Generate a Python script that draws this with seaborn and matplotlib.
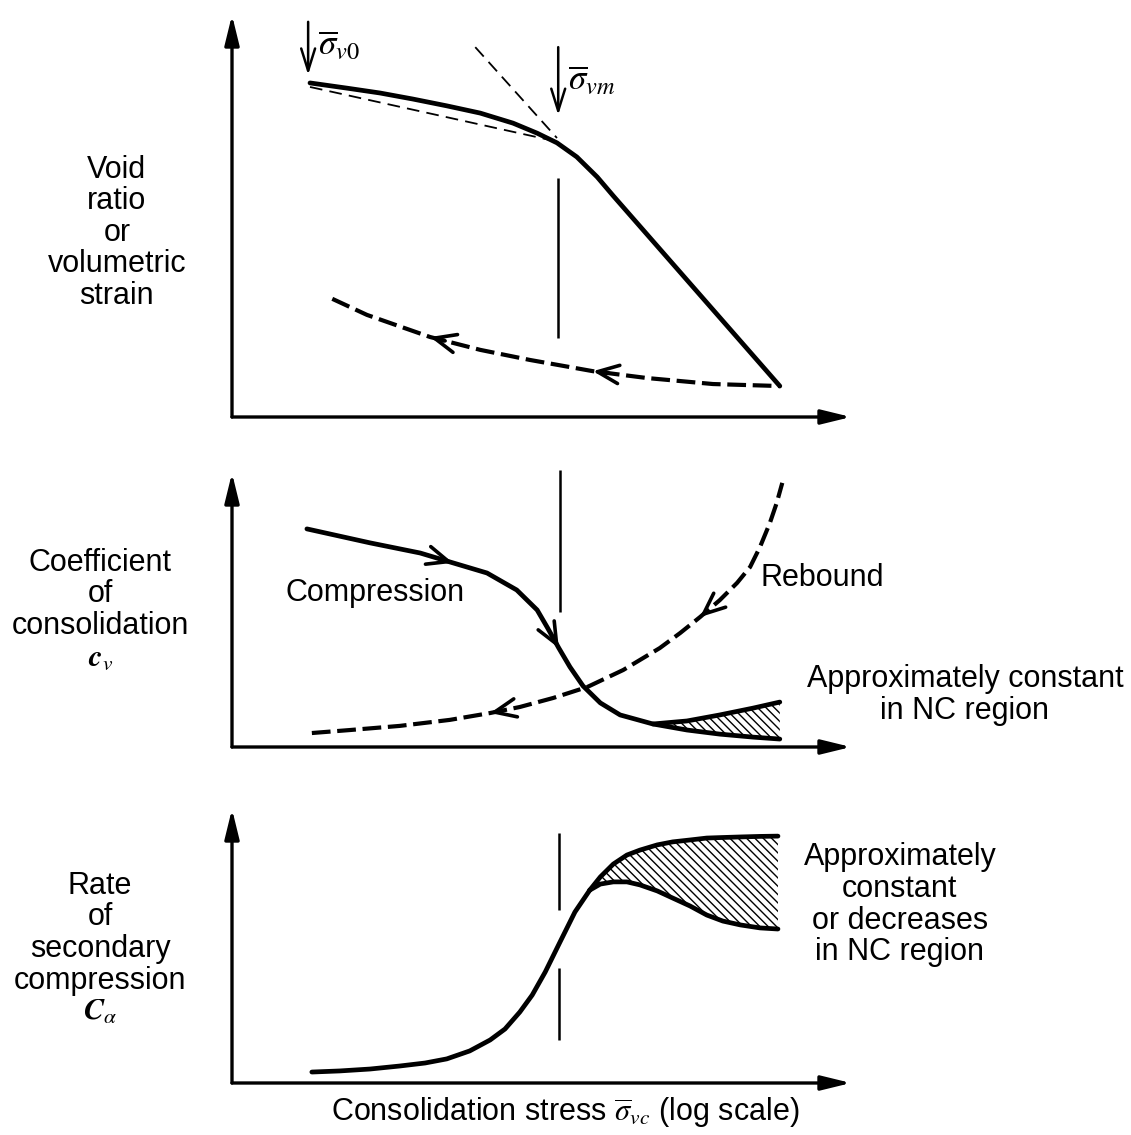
import numpy as np
import pandas as pd
import seaborn as sns
import matplotlib.pyplot as plt

sns.set_style('white')
plt.rcParams['font.family'] = ['Liberation Sans', 'DejaVu Sans']
plt.rcParams['mathtext.fontset'] = 'stix'
plt.rcParams['hatch.linewidth'] = 1.0
plt.rcParams['text.color'] = 'black'

# ---- panel 1 : void ratio vs log stress (x, y in 0..100 axis units)
p1_comp_x = [12.6, 18.6, 23.9, 29.2, 34.7, 40.1, 45.4, 49.3, 52.5, 55.7, 59.0, 61.6, 88.5]
p1_comp_y = [83.1, 81.8, 80.6, 79.1, 77.4, 75.6, 73.1, 70.6, 68.2, 64.7, 59.7, 55.0, 7.7]
p1_chord_x = [12.6, 51.4]
p1_chord_y = [82.1, 68.9]
p1_tang_x = [39.3, 52.5]
p1_tang_y = [92.0, 69.4]
p1_reb_x = [16.2, 21.8, 32.0, 40.1, 48.1, 58.3, 67.0, 77.7, 88.5]
p1_reb_y = [29.4, 25.4, 19.9, 16.7, 14.2, 11.4, 9.7, 8.2, 7.7]
sig_v0 = 12.3
sig_vm = 52.7

# ---- panel 2 : coefficient of consolidation
p2_comp_x = [12.1, 22.3, 30.4, 35.7, 41.2, 46.0, 49.3, 51.0, 52.8, 54.6, 56.7, 59.5,
             62.7, 68.0, 73.5, 78.8, 84.2, 88.5]
p2_comp_y = [79.6, 74.5, 70.8, 67.2, 63.5, 57.3, 50.0, 43.4, 36.1, 29.2, 22.3, 16.1,
             11.7, 8.4, 6.2, 4.7, 3.6, 2.9]
p2_upper_y = [8.4, 9.5, 11.7, 14.2, 16.4]   # NC upper bound, from x=68
p2_reb_x = [12.9, 19.1, 27.1, 35.2, 41.7, 46.5, 51.9, 57.4, 63.2, 69.1, 72.4, 75.6,
            78.8, 81.6, 83.7, 85.3, 86.9, 88.0, 88.9]
p2_reb_y = [5.1, 6.2, 7.7, 9.9, 12.4, 14.6, 17.9, 21.9, 28.1, 36.1, 41.6, 47.4,
            53.6, 59.9, 65.7, 73.0, 81.8, 89.1, 96.4]

# ---- panel 3 : rate of secondary compression
p3_x = [12.9, 17.4, 22.3, 27.1, 31.2, 34.7, 38.4, 41.7, 44.1, 46.5, 48.5, 50.6, 53.0, 55.4, 57.8]
p3_y = [4.0, 4.4, 5.1, 6.2, 7.3, 8.8, 11.7, 15.7, 19.7, 25.9, 32.1, 40.5, 51.5, 62.4, 70.4]
p3_nc_x = [57.8, 59.5, 61.6, 63.8, 65.9, 68.7, 71.2, 74.0, 76.7, 79.3, 82.1, 85.3, 88.2]
p3_upper_y = [70.4, 75.2, 79.9, 83.2, 85.0, 86.9, 88.0, 88.7, 89.4, 89.6, 89.8, 90.0, 90.1]
p3_lower_y = [70.4, 72.6, 73.4, 73.4, 72.3, 70.1, 67.5, 64.6, 61.3, 59.1, 57.7, 56.6, 56.2]

W, H = 1131, 1135
fig = plt.figure(figsize=(W / 100, H / 100), dpi=100)


def make_axes(top_px, bottom_px):
    ax = fig.add_axes([232 / W, 1 - bottom_px / H, (851 - 232) / W, (bottom_px - top_px) / H])
    ax.set_xlim(0, 100)
    ax.set_ylim(0, 100)
    ax.axis('off')
    head = dict(arrowstyle='-|>,head_length=0.9,head_width=0.22', lw=2.4, color='black',
                mutation_scale=20, shrinkA=0, shrinkB=0)
    ax.annotate('', xy=(1, 0), xytext=(0, 0), xycoords='axes fraction', arrowprops=head)
    ax.annotate('', xy=(0, 1), xytext=(0, 0), xycoords='axes fraction', arrowprops=head)
    return ax


def curve(ax, xs, ys, lw=3.2, dashes=None):
    df = pd.DataFrame({'x': xs, 'y': ys})
    sns.lineplot(data=df, x='x', y='y', sort=False, estimator=None, color='black',
                 lw=lw, ax=ax, legend=False)
    line = ax.lines[-1]
    line.set_solid_capstyle('round')
    line.set_solid_joinstyle('round')
    line.set_clip_on(False)
    if dashes is not None:
        line.set_dashes(dashes)
    ax.set_xlabel('')
    ax.set_ylabel('')


def arrow_on(ax, xs, ys, i, step):
    # arrowhead at point i, coming from the direction of point i+step
    xt = xs[i] + 0.3 * (xs[i + step] - xs[i])
    yt = ys[i] + 0.3 * (ys[i + step] - ys[i])
    ax.annotate('', xy=(xs[i], ys[i]), xytext=(xt, yt),
                arrowprops=dict(arrowstyle='->,head_length=0.7,head_width=0.3', lw=2.6,
                                color='black', mutation_scale=22, shrinkA=0, shrinkB=0))


lab = dict(fontsize=22, ha='center', va='center', linespacing=1.07, clip_on=False)
hatch = '\\\\\\\\'

# panel 1
ax1 = make_axes(15, 417)
curve(ax1, p1_comp_x, p1_comp_y, lw=3.4)
curve(ax1, p1_chord_x, p1_chord_y, lw=1.3, dashes=(7, 4))
curve(ax1, p1_tang_x, p1_tang_y, lw=1.3, dashes=(7, 4))
curve(ax1, p1_reb_x, p1_reb_y, lw=3.0, dashes=(4.5, 1.6))
arrow_on(ax1, p1_reb_x, p1_reb_y, 2, 1)
arrow_on(ax1, p1_reb_x, p1_reb_y, 5, 1)
ax1.vlines(sig_vm, 19.7, 59.5, color='black', lw=1.8)
for xv, y0, y1 in [(sig_v0, 98.3, 85.1), (sig_vm, 92.0, 75.1)]:
    ax1.annotate('', xy=(xv, y1), xytext=(xv, y0),
                 arrowprops=dict(arrowstyle='->,head_length=0.8,head_width=0.25', lw=1.8,
                                 color='black', mutation_scale=20, shrinkA=0, shrinkB=0),
                 annotation_clip=False)
ax1.text(13.9, 92.5, r'$\overline{\sigma}_{v0}$', fontsize=25, ha='left', va='center', clip_on=False)
ax1.text(54.3, 83.8, r'$\overline{\sigma}_{vm}$', fontsize=25, ha='left', va='center', clip_on=False)
ax1.text(-18.6, 45.8, 'Void\nratio\nor\nvolumetric\nstrain', **lab)

# panel 2
ax2 = make_axes(473, 747)
n0 = len(p2_comp_x) - len(p2_upper_y)
ax2.fill_between(p2_comp_x[n0:], p2_comp_y[n0:], p2_upper_y, facecolor='none',
                 edgecolor='black', hatch=hatch, linewidth=0)
curve(ax2, p2_comp_x, p2_comp_y, lw=3.4)
curve(ax2, p2_comp_x[n0:], p2_upper_y, lw=3.4)
curve(ax2, p2_reb_x, p2_reb_y, lw=3.0, dashes=(4.5, 1.6))
arrow_on(ax2, p2_comp_x, p2_comp_y, 3, -1)
arrow_on(ax2, p2_comp_x, p2_comp_y, 8, -1)
arrow_on(ax2, p2_reb_x, p2_reb_y, 4, 1)
arrow_on(ax2, p2_reb_x, p2_reb_y, 11, 1)
ax2.vlines(53.0, 49.3, 101.1, color='black', lw=1.8, clip_on=False)
ax2.text(8.6, 56.2, 'Compression', fontsize=22, ha='left', va='center')
ax2.text(85.3, 61.7, 'Rebound', fontsize=22, ha='left', va='center', clip_on=False)
ax2.text(118.4, 19.0, 'Approximately constant\nin NC region', **lab)
ax2.text(-21.3, 50.0, 'Coefficient\nof\nconsolidation\n$\\mathbfit{c}_{v}$', **lab)

# panel 3
ax3 = make_axes(809, 1083)
ax3.fill_between(p3_nc_x, p3_lower_y, p3_upper_y, facecolor='none',
                 edgecolor='black', hatch=hatch, linewidth=0)
curve(ax3, p3_x, p3_y, lw=3.4)
curve(ax3, p3_nc_x, p3_upper_y, lw=3.4)
curve(ax3, p3_nc_x, p3_lower_y, lw=3.4)
ax3.vlines(52.8, 63.1, 91.2, color='black', lw=1.8)
ax3.vlines(52.8, 15.7, 42.0, color='black', lw=1.8)
ax3.text(107.9, 65.0, 'Approximately\nconstant\nor decreases\nin NC region', **lab)
ax3.text(-21.3, 48.9, 'Rate\nof\nsecondary\ncompression\n$\\mathbfit{C}_{\\alpha}$', **lab)
ax3.text(53.8, -10.6, r'Consolidation stress $\overline{\sigma}_{vc}$ (log scale)', **lab)

fig.savefig('out.png', dpi=100)
